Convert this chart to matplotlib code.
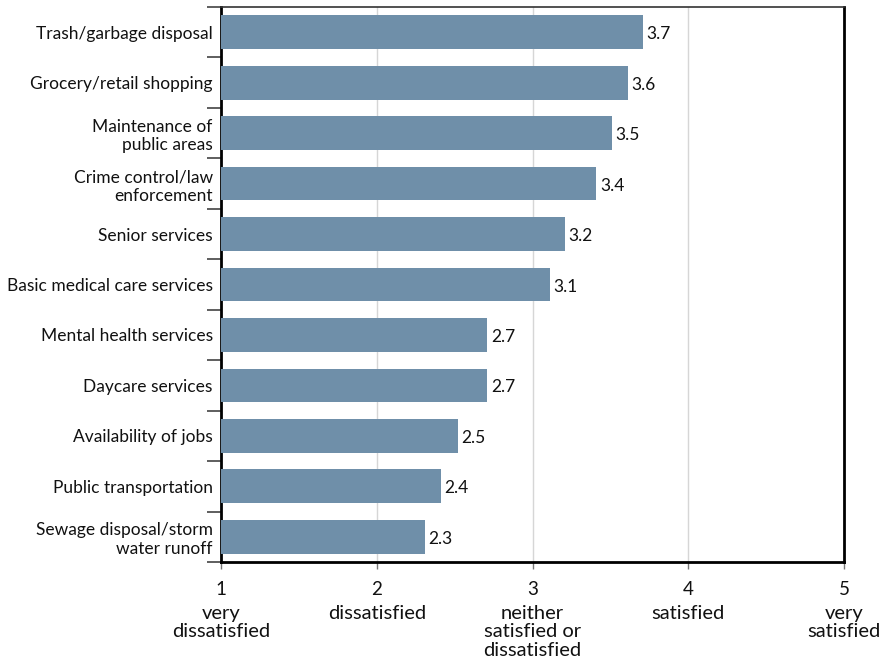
import matplotlib
matplotlib.use("Agg")
import matplotlib.pyplot as plt
import numpy as np

plt.rcParams['font.family'] = ['Lato', 'DejaVu Sans']

categories = [
    "Trash/garbage disposal",
    "Grocery/retail shopping",
    "Maintenance of\npublic areas",
    "Crime control/law\nenforcement",
    "Senior services",
    "Basic medical care services",
    "Mental health services",
    "Daycare services",
    "Availability of jobs",
    "Public transportation",
    "Sewage disposal/storm\nwater runoff",
]
values = [3.71, 3.61, 3.51, 3.41, 3.21, 3.11, 2.71, 2.71, 2.52, 2.41, 2.31]
value_labels = ["3.7", "3.6", "3.5", "3.4", "3.2", "3.1", "2.7", "2.7", "2.5", "2.4", "2.3"]
scale_ticks = [1, 2, 3, 4, 5]
scale_labels = ["very\ndissatisfied", "dissatisfied", "neither\nsatisfied or\ndissatisfied",
                "satisfied", "very\nsatisfied"]

W, H = 885, 667
fig = plt.figure(figsize=(W/100, H/100), dpi=100)
left, right, top, bottom = 221, 844, 7, 562
ax = fig.add_axes([left/W, 1 - bottom/H, (right-left)/W, (bottom-top)/H])

n = len(categories)
y = np.arange(n)
bar_color = '#6f8fa9'
ax.barh(y, [v - 1 for v in values], left=1, height=0.67, color=bar_color, zorder=3)
for yi, v, lab in zip(y, values, value_labels):
    ax.annotate(lab, (v, yi), xytext=(2.5, -1.5), textcoords='offset points',
                va='center', ha='left', fontsize=12.5, color='#111111', zorder=4)

ax.set_xlim(1, 5)
ax.set_ylim(n - 0.5, -0.5)

# y: category labels at centers, ticks at boundaries
ax.set_yticks(y)
ax.set_yticklabels(categories, fontsize=12.5, linespacing=1.2, color='#111111')
ax.tick_params(axis='y', which='major', length=0, pad=6)
ax.set_yticks(np.arange(-0.5, n, 1.0), minor=True)
ax.tick_params(axis='y', which='minor', length=10, width=1.1, color='#333333')

ax.set_xticks(scale_ticks)
ax.set_xticklabels([str(t) for t in scale_ticks], fontsize=13.5, color='#111111')
ax.tick_params(axis='x', length=5, width=1, color='#777777', pad=9)

for t in [2, 3, 4]:
    ax.axvline(t, color='#d6d6d6', lw=1, zorder=1)

for s in ['left', 'bottom']:
    ax.spines[s].set_linewidth(2)
    ax.spines[s].set_color('black')
ax.spines['right'].set_linewidth(2)
ax.spines['right'].set_color('black')
ax.spines['top'].set_linewidth(1.2)
ax.spines['top'].set_color('#333333')

for t, lab in zip(scale_ticks, scale_labels):
    ax.text(t, -0.078, lab, transform=ax.get_xaxis_transform(), ha='center', va='top',
            fontsize=14.5, linespacing=1.08, color='#111111')

fig.savefig('out.png', dpi=100)
